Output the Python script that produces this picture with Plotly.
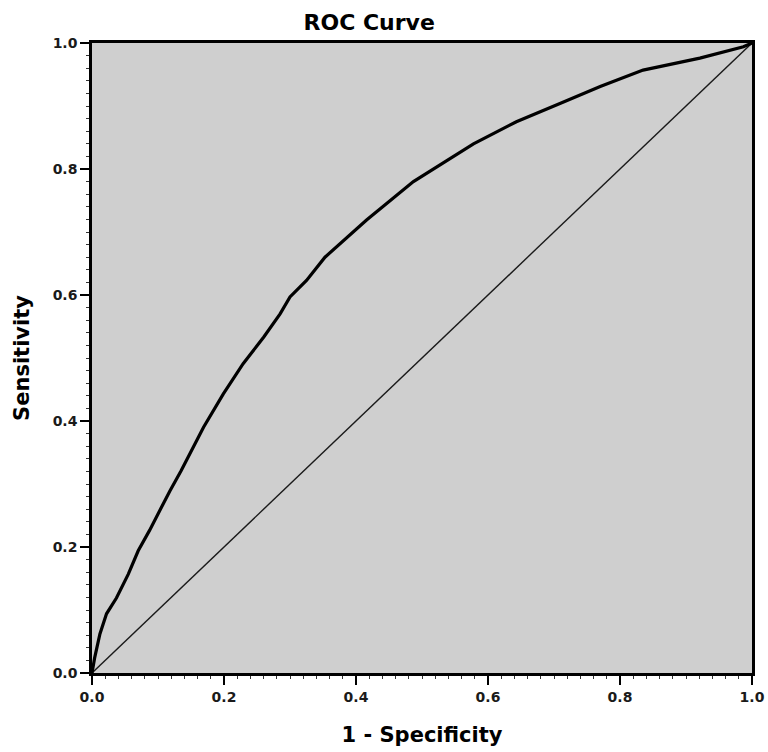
import plotly.graph_objects as go

# ROC curve (1 - specificity, sensitivity)
fpr = [0.0, 0.004, 0.012, 0.022, 0.037, 0.055, 0.070, 0.087, 0.118, 0.135, 0.169,
       0.199, 0.229, 0.260, 0.285, 0.300, 0.325, 0.353, 0.416, 0.487, 0.578,
       0.643, 0.709, 0.770, 0.835, 0.921, 0.987, 1.0]
tpr = [0.0, 0.024, 0.062, 0.094, 0.119, 0.157, 0.194, 0.226, 0.289, 0.321, 0.390,
       0.443, 0.491, 0.533, 0.570, 0.597, 0.623, 0.660, 0.719, 0.780, 0.840,
       0.875, 0.904, 0.931, 0.957, 0.976, 0.994, 1.0]
ref_x = [0.0, 1.0]
ref_y = [0.0, 1.0]
tick_vals = [0.0, 0.2, 0.4, 0.6, 0.8, 1.0]
tick_text = ["0.0", "0.2", "0.4", "0.6", "0.8", "1.0"]

FONT = "DejaVu Sans, Verdana, sans-serif"

fig = go.Figure()
fig.add_trace(go.Scatter(x=ref_x, y=ref_y, mode="lines",
                         line=dict(color="#1a1a1a", width=1.4), showlegend=False))
fig.add_trace(go.Scatter(x=fpr, y=tpr, mode="lines",
                         line=dict(color="black", width=3.2), showlegend=False))

axis_common = dict(
    range=[0, 1], tickvals=tick_vals, ticktext=tick_text,
    showgrid=False, zeroline=False, automargin=False,
    showline=True, linecolor="black", linewidth=2.5, mirror=True,
    ticks="outside", ticklen=9, tickwidth=2, tickcolor="black",
    tickfont=dict(family=FONT, size=14, color="#1a1a1a", weight="bold"),
    minor=dict(ticks="outside", ticklen=3, tickwidth=1, tickcolor="#333333", dtick=0.02),
)

fig.update_layout(
    width=768, height=752,
    margin=dict(l=92, r=16, t=43, b=79),
    paper_bgcolor="white",
    plot_bgcolor="#cfcfcf",
    title=dict(text="<b>ROC Curve</b>", x=0.42, xref="paper", xanchor="center",
               y=1 - 22 / 752, yref="container", yanchor="middle",
               font=dict(family=FONT, size=22, color="black")),
    xaxis=dict(**axis_common,
               title=dict(text="<b>1 - Specificity</b>", standoff=24,
                          font=dict(family=FONT, size=21, color="black"))),
    yaxis=dict(**axis_common,
               title=dict(text="<b>Sensitivity</b>", standoff=18,
                          font=dict(family=FONT, size=21, color="black"))),
)

fig.write_html("out.html")
